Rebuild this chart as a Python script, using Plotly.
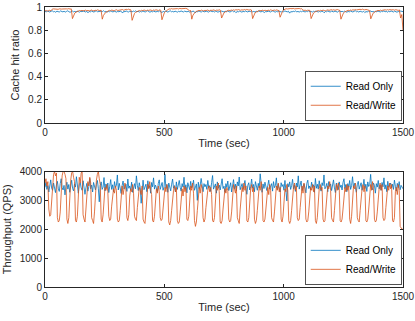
import numpy as np
import plotly.graph_objects as go
from plotly.subplots import make_subplots

# cache hit ratio, one sample every 5 sec
hit_read_only = [
    0.962, 0.958, 0.965, 0.960, 0.957, 0.963, 0.968, 0.959, 0.961, 0.955, 0.964, 0.960, 0.957, 0.966, 0.961,
    0.958, 0.963, 0.956, 0.962, 0.967, 0.960, 0.954, 0.961, 0.965, 0.958, 0.962, 0.957, 0.964, 0.960, 0.956,
    0.963, 0.959, 0.966, 0.961, 0.957, 0.964, 0.950, 0.962, 0.958, 0.965, 0.960, 0.956, 0.963, 0.967, 0.959,
    0.961, 0.957, 0.964, 0.960, 0.968, 0.958, 0.962, 0.955, 0.963, 0.959, 0.966, 0.961, 0.957, 0.964, 0.960,
    0.956, 0.962, 0.958, 0.965, 0.961, 0.948, 0.963, 0.959, 0.966, 0.960, 0.957, 0.964, 0.962, 0.958, 0.965,
    0.960, 0.967, 0.959, 0.963, 0.956, 0.962, 0.958, 0.965, 0.961, 0.957, 0.963, 0.968, 0.960, 0.955, 0.962,
    0.958, 0.964, 0.960, 0.957, 0.963, 0.959, 0.966, 0.961, 0.952, 0.962, 0.958, 0.965, 0.960, 0.956, 0.963,
    0.967, 0.959, 0.962, 0.957, 0.964, 0.960, 0.956, 0.963, 0.959, 0.966, 0.961, 0.957, 0.964, 0.960, 0.958,
    0.963, 0.956, 0.962, 0.958, 0.965, 0.961, 0.949, 0.963, 0.959, 0.966, 0.960, 0.957, 0.964, 0.961, 0.958,
    0.965, 0.960, 0.956, 0.962, 0.967, 0.959, 0.963, 0.957, 0.964, 0.960, 0.955, 0.962, 0.958, 0.965, 0.961,
    0.957, 0.963, 0.959, 0.966, 0.960, 0.956, 0.963, 0.968, 0.959, 0.962, 0.951, 0.961, 0.958, 0.964, 0.960,
    0.956, 0.962, 0.959, 0.965, 0.961, 0.957, 0.964, 0.960, 0.967, 0.958, 0.962, 0.956, 0.963, 0.959, 0.966,
    0.961, 0.957, 0.964, 0.960, 0.953, 0.962, 0.958, 0.965, 0.961, 0.957, 0.963, 0.968, 0.960, 0.956, 0.962,
    0.959, 0.965, 0.960, 0.957, 0.963, 0.959, 0.966, 0.962, 0.958, 0.964, 0.947, 0.961, 0.957, 0.963, 0.960,
    0.966, 0.958, 0.962, 0.956, 0.963, 0.959, 0.965, 0.961, 0.957, 0.964, 0.960, 0.967, 0.958, 0.962, 0.956,
    0.963, 0.959, 0.965, 0.960, 0.957, 0.962, 0.958, 0.964, 0.961, 0.950, 0.963, 0.959, 0.966, 0.960, 0.957,
    0.964, 0.961, 0.958, 0.965, 0.960, 0.956, 0.962, 0.967, 0.959, 0.963, 0.957, 0.964, 0.960, 0.955, 0.962,
    0.958, 0.965, 0.961, 0.957, 0.963, 0.968, 0.959, 0.962, 0.956, 0.964, 0.960, 0.957, 0.963, 0.952, 0.961,
    0.957, 0.964, 0.960, 0.966, 0.958, 0.962, 0.956, 0.963, 0.959, 0.965, 0.961, 0.957, 0.964, 0.960, 0.967,
    0.959, 0.962, 0.956, 0.963, 0.959, 0.966, 0.961, 0.957, 0.964, 0.960, 0.955, 0.962, 0.958, 0.965, 0.961,
    0.960,
]

hit_read_write = [
    0.966, 0.970, 0.964, 0.969, 0.972, 0.967,
    0.981, 0.984, 0.982, 0.985, 0.983, 0.980, 0.984, 0.986, 0.982, 0.983, 0.985, 0.981, 0.984, 0.983, 0.986, 0.982, 0.984,
    0.900,
    0.932, 0.948, 0.956, 0.961, 0.965, 0.970, 0.967, 0.972, 0.966, 0.969, 0.973, 0.968, 0.971, 0.966, 0.970, 0.974,
    0.969, 0.967, 0.972, 0.970, 0.975, 0.971, 0.968, 0.973,
    0.895,
    0.928, 0.946, 0.955, 0.960, 0.966, 0.971, 0.968, 0.974, 0.970, 0.967, 0.973, 0.976, 0.970, 0.972, 0.968, 0.975,
    0.978, 0.972, 0.976, 0.980, 0.977, 0.981, 0.978, 0.975,
    0.885,
    0.925, 0.944, 0.954, 0.961, 0.967, 0.970, 0.966, 0.972, 0.969, 0.974, 0.971, 0.968, 0.973, 0.970, 0.975, 0.972,
    0.969, 0.974, 0.971, 0.976, 0.973, 0.970, 0.975, 0.972,
    0.890,
    0.930, 0.950, 0.962, 0.972, 0.980, 0.984, 0.982, 0.986, 0.983, 0.985, 0.987, 0.984, 0.986, 0.983, 0.988, 0.985,
    0.987, 0.984, 0.986, 0.988, 0.985, 0.972, 0.968, 0.970,
    0.895,
    0.930, 0.947, 0.957, 0.962, 0.967, 0.971, 0.968, 0.973, 0.970, 0.966, 0.972, 0.969, 0.974, 0.971, 0.967, 0.973,
    0.970, 0.975, 0.972, 0.969, 0.974, 0.971, 0.976, 0.972,
    0.905,
    0.935, 0.950, 0.958, 0.963, 0.968, 0.972, 0.969, 0.974, 0.971, 0.975, 0.972, 0.977, 0.974, 0.978, 0.975, 0.972,
    0.976, 0.973, 0.978, 0.975, 0.979, 0.976, 0.973, 0.977, 0.974,
    0.900,
    0.933, 0.949, 0.957, 0.963, 0.968, 0.971, 0.967, 0.973, 0.970, 0.974, 0.971, 0.968, 0.973, 0.970, 0.975, 0.972,
    0.969, 0.974, 0.971, 0.975, 0.972, 0.969,
    0.912,
    0.945, 0.960, 0.975, 0.982, 0.985, 0.983, 0.986, 0.984, 0.987, 0.985, 0.988, 0.984, 0.986, 0.989, 0.985, 0.987,
    0.984, 0.986, 0.975, 0.970, 0.973, 0.968, 0.972, 0.969, 0.971,
    0.900,
    0.932, 0.948, 0.957, 0.962, 0.967, 0.970, 0.966, 0.972, 0.969, 0.973, 0.970, 0.967, 0.972, 0.975, 0.971, 0.974,
    0.977, 0.973, 0.976, 0.972, 0.975, 0.978, 0.974, 0.971,
    0.895,
    0.928, 0.946, 0.956, 0.962, 0.968, 0.972, 0.969, 0.974, 0.971, 0.976, 0.973, 0.978, 0.975, 0.979, 0.976, 0.980,
    0.977, 0.981, 0.978, 0.975, 0.979, 0.976, 0.973, 0.970,
    0.898,
    0.930, 0.947, 0.956, 0.962, 0.967, 0.971, 0.968, 0.973, 0.970, 0.974, 0.971, 0.976, 0.973, 0.977, 0.974, 0.978,
    0.975, 0.979, 0.976, 0.973, 0.977, 0.974, 0.971, 0.975,
    0.905, 0.935, 0.800,
]

# throughput (QPS), one sample every 4 sec
qps_read_only = [
    3450, 3620, 3380, 3510, 3290, 3560, 3710, 3420, 3350, 3600, 3480, 3270, 3530,
    3660, 3400, 3310, 3580, 3750, 3440, 3360, 3520, 3190, 3470, 3630, 3390, 3550,
    3280, 3490, 3700, 3410, 3330, 3570, 3460, 3820, 3370, 3250, 3540, 3610, 3430,
    3350, 3680, 3500, 3210, 3440, 3590, 3320, 3470, 3760, 3400, 3530, 3290, 3620,
    3480, 3360, 3550, 3690, 3420, 2950, 3510, 3640, 3380, 3460, 3790, 3330, 3570,
    3410, 3600, 3270, 3490, 3720, 3380, 3540, 3300, 3650, 3450, 3520, 3880, 3360,
    3590, 3430, 3240, 3510, 3670, 3390, 3470, 3560, 3310, 3740, 3420, 3500, 3350,
    3630, 3280, 3460, 3580, 3400, 3850, 3520, 3340, 3610, 3450, 2900, 3540, 3700,
    3370, 3490, 3560, 3300, 3680, 3430, 3510, 3250, 3620, 3470, 3780, 3390, 3530,
    3440, 3300, 3590, 3710, 3380, 3500, 3620, 3350, 3460, 3900, 3410, 3550, 3280,
    3600, 3470, 3330, 3560, 3740, 3420, 3510, 3290, 3640, 3380, 3520, 3690, 3450,
    3320, 3580, 3460, 3800, 3390, 3540, 3260, 3610, 3480, 3370, 3660, 3430, 3510,
    3700, 3350, 3490, 3570, 3000, 3630, 3410, 3530, 3760, 3400, 3300, 3580, 3470,
    3550, 3380, 3690, 3440, 3510, 3310, 3620, 3860, 3390, 3480, 3570, 3250, 3640,
    3420, 3530, 3360, 3600, 3750, 3410, 3490, 3280, 3580, 3450, 3670, 3340, 3520,
    3610, 3290, 3470, 3720, 3400, 3560, 3330, 3640, 3500, 3810, 3370, 3450, 3580,
    3380, 3540, 3690, 3430, 3210, 3520, 3610, 3360, 3480, 3740, 3420, 3550, 3300,
    3650, 3460, 3350, 3590, 3430, 3920, 3510, 3280, 3570, 3410, 3630, 3490, 3340,
    3520, 3700, 3390, 3460, 3580, 3320, 3650, 3440, 3510, 3780, 3370, 3560, 3430,
    3290, 3610, 3480, 3550, 3350, 3690, 3420, 2980, 3580, 3470, 3640, 3380, 3510,
    3730, 3400, 3530, 3310, 3600, 3460, 3850, 3390, 3520, 3670, 3340, 3480, 3570,
    3440, 3260, 3590, 3700, 3410, 3500, 3360, 3630, 3450, 3540, 3280, 3760, 3420,
    3560, 3390, 3680, 3470, 3320, 3610, 3510, 3880, 3400, 3460, 3590, 3300, 3650,
    3480, 3570, 3340, 3520, 3710, 3430, 3270, 3600, 3490, 3370, 3640, 3450, 3530,
    3360, 3620, 3750, 3410, 3550, 3300, 3580, 3460, 3690, 3380, 3510, 3820, 3440,
    3590, 3420, 3280, 3540, 3660, 3390, 3500, 3610, 3350, 3470, 3730, 3410, 3560,
    3310, 3640, 3480, 3550, 3900, 3430, 3370, 3600, 3520, 3250, 3580, 3460, 3690,
    3400, 3530, 3350, 3620, 3470, 3780, 3390, 3540, 3300, 3660, 3450, 3510, 3600,
    3430, 3560, 3380, 3700, 3490, 3320, 3590, 3440, 3650, 3370, 3520, 3480, 3400,
]

qps_read_write = [
    3600, 3750, 3500, 3650, 2700, 2450, 2500, 3100,
    3700, 3900, 4000, 3850, 3950, 2400, 2250, 2300, 2600,
    3500, 3850, 4000, 4000, 3900, 3750, 2350, 2200, 2400,
    3300, 3700, 3950, 4000, 3800, 3650, 2300, 2250, 2450,
    3400, 3800, 3600, 3950, 4000, 2500, 2350, 2250, 2700,
    3350, 3650, 3500, 3800, 3600, 2400, 2300, 2200, 2600,
    3450, 3700, 3900, 4000, 3750, 3550, 2350, 2250, 2500,
    3200, 3450, 3350, 3550, 3300, 2450, 2300, 2350, 2800,
    3100, 3400, 3250, 3500, 3350, 2350, 2250, 2300, 2650,
    3300, 3500, 3200, 3450, 3600, 3350, 2400, 2300, 2500,
    3150, 3400, 3300, 3550, 3250, 2450, 2350, 2300, 2750,
    3200, 3450, 3350, 3200, 3500, 2350, 2250, 2200, 2600,
    3300, 3550, 3400, 3650, 3350, 3200, 2300, 2250, 2450,
    3150, 3400, 3250, 3500, 3300, 2400, 2300, 2350, 2700,
    3250, 3450, 3300, 3550, 3400, 2250, 2150, 2300, 2650,
    3100, 3350, 3500, 3300, 3450, 2300, 2200, 2250, 2600,
    3250, 3400, 3150, 3500, 3300, 3450, 2350, 2300, 2450,
    3200, 3500, 3350, 3600, 3250, 2300, 2100, 2250, 2650,
    3300, 3450, 3250, 3550, 3400, 2400, 2250, 2350, 2750,
    3150, 3350, 3500, 3300, 3450, 3200, 2300, 2250, 2400,
    3250, 3500, 3350, 3600, 3300, 2250, 2200, 2300, 2700,
    3100, 3400, 3250, 3450, 3350, 2350, 2250, 2300, 2600,
    3300, 3550, 3400, 3250, 3500, 2400, 2300, 2200, 2700,
    3200, 3450, 3300, 3600, 3350, 3500, 2300, 2250, 2400,
    3150, 3400, 3550, 3300, 3450, 2350, 2200, 2300, 2650,
    3250, 3500, 3350, 3650, 3400, 2300, 2250, 2350, 2700,
    3300, 3450, 3200, 3550, 3350, 2400, 2300, 2250, 2600,
    3200, 3500, 3350, 3600, 3300, 3450, 2350, 2250, 2450,
    3150, 3400, 3300, 3550, 3350, 2300, 2200, 2300, 2650,
    3250, 3450, 3600, 3350, 3500, 2400, 2300, 2350, 2750,
    3300, 3500, 3250, 3600, 3400, 2350, 2250, 2300, 2600,
    3200, 3450, 3350, 3550, 3300, 3500, 2300, 2200, 2400,
    3150, 3400, 3550, 3350, 3450, 2350, 2250, 2300, 2700,
    3250, 3500, 3400, 3650, 3350, 2400, 2300, 2250, 2650,
    3300, 3550, 3350, 3600, 3450, 2300, 2250, 2350, 2700,
    3200, 3450, 3300, 3550, 3350, 3500, 2350, 2200, 2450,
    3250, 3500, 3400, 3600, 3350, 2400, 2300, 2250, 2650,
    3150, 3400, 3550, 3300, 3500, 2300, 2250, 2350, 2700,
    3300, 3550, 3350, 3650, 3400, 2350, 2250, 2300, 2600,
    3200, 3450, 3600, 3350, 3550, 2400, 2300, 2350, 2750,
    3250, 3500, 3350, 3600, 3400, 3550, 2300, 2250, 2400,
    3300, 3450, 3200, 3550, 3350, 2100, 2050, 2000, 2000,
]

x_ticks = [0, 500, 1000, 1500]
blue = '#0072BD'
orange = '#D95319'
ink = '#262626'

t_hit_ro = np.linspace(0, 1500, len(hit_read_only))
t_hit_rw = np.linspace(0, 1500, len(hit_read_write))
t_qps_ro = np.linspace(0, 1500, len(qps_read_only))
t_qps_rw = np.linspace(0, 1500, len(qps_read_write))

fig = make_subplots(rows=2, cols=1)

fig.add_trace(go.Scatter(x=t_hit_ro, y=hit_read_only, name='Read Only', mode='lines',
                         line=dict(color=blue, width=0.8), legend='legend'), row=1, col=1)
fig.add_trace(go.Scatter(x=t_hit_rw, y=hit_read_write, name='Read/Write', mode='lines',
                         line=dict(color=orange, width=0.8), legend='legend'), row=1, col=1)
fig.add_trace(go.Scatter(x=t_qps_ro, y=qps_read_only, name='Read Only', mode='lines',
                         line=dict(color=blue, width=0.8), legend='legend2'), row=2, col=1)
fig.add_trace(go.Scatter(x=t_qps_rw, y=qps_read_write, name='Read/Write', mode='lines',
                         line=dict(color=orange, width=0.8), legend='legend2'), row=2, col=1)

axis_style = dict(showline=True, linecolor=ink, linewidth=1, mirror='ticks', ticks='inside',
                  ticklen=3, tickcolor=ink, showgrid=False, zeroline=False, automargin=False,
                  tickfont=dict(size=10, color=ink), title_font=dict(size=11, color=ink))

fig.update_xaxes(**axis_style, range=[0, 1500], tickvals=x_ticks, title_text='Time (sec)',
                 title_standoff=2)
fig.update_yaxes(**axis_style)
fig.update_yaxes(range=[0, 1], tickvals=[0, 0.2, 0.4, 0.6, 0.8, 1], ticktext=['0', '0.2', '0.4', '0.6', '0.8', '1'],
                 title_text='Cache hit ratio', title_standoff=6, domain=[0.5857, 1], row=1, col=1)
fig.update_yaxes(range=[0, 4000], tickvals=[0, 1000, 2000, 3000, 4000],
                 title_text='Throughput (QPS)', title_standoff=5, domain=[0, 0.4125], row=2, col=1)

legend_style = dict(xanchor='right', yanchor='bottom', x=0.997, bgcolor='white',
                    bordercolor=ink, borderwidth=0.8, font=dict(size=10, color='black'),
                    itemwidth=30, tracegroupgap=0)

fig.update_layout(
    width=415, height=321,
    margin=dict(l=45, r=12, t=7, b=34),
    paper_bgcolor='white', plot_bgcolor='white',
    font=dict(family='Liberation Sans, Arial, sans-serif', color=ink),
    legend=dict(**legend_style, y=0.593),
    legend2=dict(**legend_style, y=0.007),
)

fig.write_html("out.html", config={'displayModeBar': False},
               post_script="document.body.style.margin='0';")
